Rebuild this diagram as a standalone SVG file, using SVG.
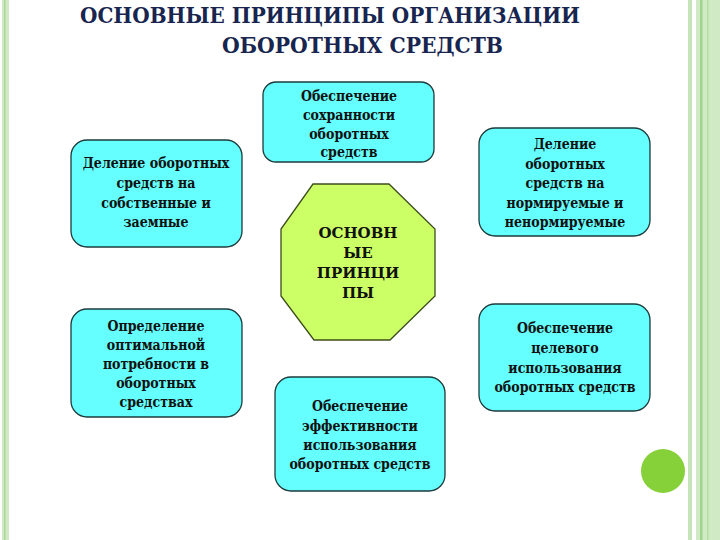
<svg xmlns="http://www.w3.org/2000/svg" width="720" height="540" viewBox="0 0 720 540">
<style>
.box{fill:#66ffff;stroke:#1d3b3b;stroke-width:1.3}
.oct{fill:#ccff66;stroke:#3d4d1a;stroke-width:1.3}
.t{font-family:'DejaVu Serif Condensed','DejaVu Serif',serif;font-stretch:condensed;font-weight:bold;font-size:14px;fill:#111;text-anchor:middle}
.c{font-family:'DejaVu Serif',serif;font-weight:bold;font-size:15px;fill:#111;text-anchor:middle}
.title{font-family:'DejaVu Serif',serif;font-weight:bold;font-size:22px;fill:#17254f}
</style>
<rect width="720" height="540" fill="#ffffff"/>
<g id="borders">
<rect x="2" y="0" width="7" height="540" fill="#cfeac4"/>
<rect x="4" y="0" width="1.5" height="540" fill="#a8d898"/>
<rect x="688" y="0" width="4" height="540" fill="#c5e5b8"/>
<rect x="696" y="0" width="24" height="540" fill="#cfeac4"/>
<rect x="700" y="0" width="2.5" height="540" fill="#9fd48c"/>
<rect x="707" y="0" width="1.5" height="540" fill="#b5dea4"/>
<circle cx="663" cy="471" r="22" fill="#86d13a"/>
</g>
<g id="title">
<text class="title" x="80" y="23" textLength="500" lengthAdjust="spacingAndGlyphs">ОСНОВНЫЕ ПРИНЦИПЫ ОРГАНИЗАЦИИ</text>
<text class="title" x="222" y="53" textLength="281" lengthAdjust="spacingAndGlyphs">ОБОРОТНЫХ СРЕДСТВ</text>
</g>
<g id="connectors"></g>
<g id="center">
<polygon class="oct" points="313,184 389,184 435,229 435,296 390,340 314,340 281,296 281,229"/>
<text class="c" x="358" y="238">ОСНОВН</text>
<text class="c" x="358" y="258">ЫЕ</text>
<text class="c" x="358" y="278">ПРИНЦИ</text>
<text class="c" x="358" y="298">ПЫ</text>
</g>
<g id="n-top">
<rect class="box" x="263" y="82" width="171" height="80" rx="13"/>
<text class="t" x="349" y="101">Обеспечение</text>
<text class="t" x="349" y="120">сохранности</text>
<text class="t" x="349" y="139">оборотных</text>
<text class="t" x="349" y="157">средств</text>
</g>
<g id="n-left-top">
<rect class="box" x="71" y="140" width="171" height="107" rx="16"/>
<text class="t" x="156" y="168">Деление оборотных</text>
<text class="t" x="156" y="188">средств на</text>
<text class="t" x="156" y="208">собственные и</text>
<text class="t" x="156" y="227">заемные</text>
</g>
<g id="n-right-top">
<rect class="box" x="479" y="128" width="171" height="108" rx="16"/>
<text class="t" x="565" y="149">Деление</text>
<text class="t" x="565" y="169">оборотных</text>
<text class="t" x="565" y="188">средств на</text>
<text class="t" x="565" y="208">нормируемые и</text>
<text class="t" x="565" y="227">ненормируемые</text>
</g>
<g id="n-left-bottom">
<rect class="box" x="71" y="309" width="171" height="108" rx="16"/>
<text class="t" x="156" y="331">Определение</text>
<text class="t" x="156" y="350">оптимальной</text>
<text class="t" x="156" y="369">потребности в</text>
<text class="t" x="156" y="388">оборотных</text>
<text class="t" x="156" y="407">средствах</text>
</g>
<g id="n-right-bottom">
<rect class="box" x="479" y="304" width="171" height="107" rx="16"/>
<text class="t" x="565" y="333">Обеспечение</text>
<text class="t" x="565" y="353">целевого</text>
<text class="t" x="565" y="373">использования</text>
<text class="t" x="565" y="392">оборотных средств</text>
</g>
<g id="n-bottom">
<rect class="box" x="275" y="377" width="170" height="114" rx="16"/>
<text class="t" x="360" y="411">Обеспечение</text>
<text class="t" x="360" y="431">эффективности</text>
<text class="t" x="360" y="450">использования</text>
<text class="t" x="360" y="469">оборотных средств</text>
</g>
</svg>
